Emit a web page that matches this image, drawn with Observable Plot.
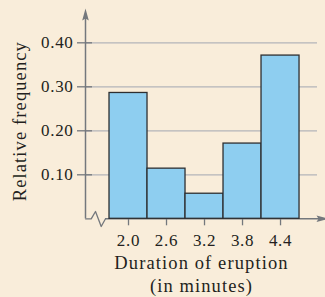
<!DOCTYPE html>
<html><head><meta charset="utf-8">
<script src="https://cdn.jsdelivr.net/npm/d3@7"></script>
<script src="https://cdn.jsdelivr.net/npm/@observablehq/plot@0.6"></script>
<style>
html,body{margin:0;padding:0;background:#f9edda;}
</style></head><body><div id="chart"></div>
<script>
const durations = [2.0, 2.6, 3.2, 3.8, 4.4];
const relFreq = [0.286, 0.114, 0.057, 0.171, 0.371];
const binWidth = 0.6;
const yTicks = [0.10, 0.20, 0.30, 0.40];
const xTitle = "Duration of eruption\n(in minutes)";
const yTitle = "Relative frequency";
const xDomain = [1.321, 5.11];
const yDomain = [0, 0.478];
const breakX = [1.321, 1.411, 1.479, 1.569, 1.637];
const breakY = [0, 0, 0.0166, -0.0175, 0];

const bars = durations.map((d, i) => ({x1: d - binWidth / 2, x2: d + binWidth / 2, y: relFreq[i]}));
const zig = breakX.map((x, i) => ({x, y: breakY[i]}));

const axisColor = "#74787d";
const textColor = "#231f20";

const upArrow = {draw(ctx) { ctx.moveTo(0, 0); ctx.lineTo(3.3, 12); ctx.lineTo(0, 10); ctx.lineTo(-3.3, 12); ctx.closePath(); }};
const rightArrow = {draw(ctx) { ctx.moveTo(0, 0); ctx.lineTo(-12, 3.3); ctx.lineTo(-10, 0); ctx.lineTo(-12, -3.3); ctx.closePath(); }};

const chart = Plot.plot({
  width: 325,
  height: 297,
  marginLeft: 85,
  marginRight: 0,
  marginTop: 8,
  marginBottom: 78.7,
  x: {domain: xDomain},
  y: {domain: yDomain},
  style: {background: "#f9edda", fontFamily: "'Liberation Serif', serif", color: textColor},
  marks: [
    Plot.ruleY(yTicks, {stroke: "#b3b4b9", strokeWidth: 1.3, insetRight: 8}),
    Plot.ruleX([xDomain[0]], {y1: 0, y2: yDomain[1] * 0.97, stroke: axisColor, strokeWidth: 1.5}),
    Plot.dot([{x: xDomain[0], y: yDomain[1]}], {x: "x", y: "y", symbol: upArrow, fill: axisColor, stroke: "none"}),
    Plot.ruleY([0], {x1: breakX[breakX.length - 1], x2: xDomain[1], stroke: axisColor, strokeWidth: 1.5}),
    Plot.dot([{x: xDomain[1], y: 0}], {x: "x", y: "y", symbol: rightArrow, fill: axisColor, stroke: "none", dx: 3}),
    Plot.line(zig, {x: "x", y: "y", stroke: axisColor, strokeWidth: 1.3}),
    Plot.axisY(yTicks, {tickSize: 15, dx: 7, tickFormat: () => "", stroke: axisColor, strokeWidth: 1.3, label: null}),
    Plot.axisY(yTicks, {tickSize: 0, tickPadding: 12, tickFormat: d3.format(".2f"), fontSize: 17, fill: textColor, label: null, className: "ticklab"}),
    Plot.axisX(durations, {tickSize: 7, tickPadding: 7.9, tickFormat: d3.format(".1f"), fontSize: 17, stroke: axisColor, strokeWidth: 1.3, fill: textColor, label: null, className: "ticklab"}),
    Plot.rect(bars, {x1: "x1", x2: "x2", y1: 0, y2: "y", fill: "#8ecef0", stroke: "#2e2f31", strokeWidth: 1.3}),
    Plot.text([xTitle], {text: d => d, frameAnchor: "bottom", textAnchor: "middle", dx: -4, dy: 34.5, lineAnchor: "top", fontSize: 18.5, lineHeight: 1.216, fill: textColor}),
    Plot.text([yTitle], {text: d => d, frameAnchor: "left", textAnchor: "middle", lineAnchor: "middle", rotate: -90, dx: -65.9, dy: 7.5, fontSize: 18.5, fill: textColor})
  ]
});
d3.select(chart).selectAll("text").style("letter-spacing", "0.06em");
d3.select(chart).selectAll(".ticklab text").style("letter-spacing", "0.04em");
document.getElementById("chart").appendChild(chart);
</script>
</body></html>
